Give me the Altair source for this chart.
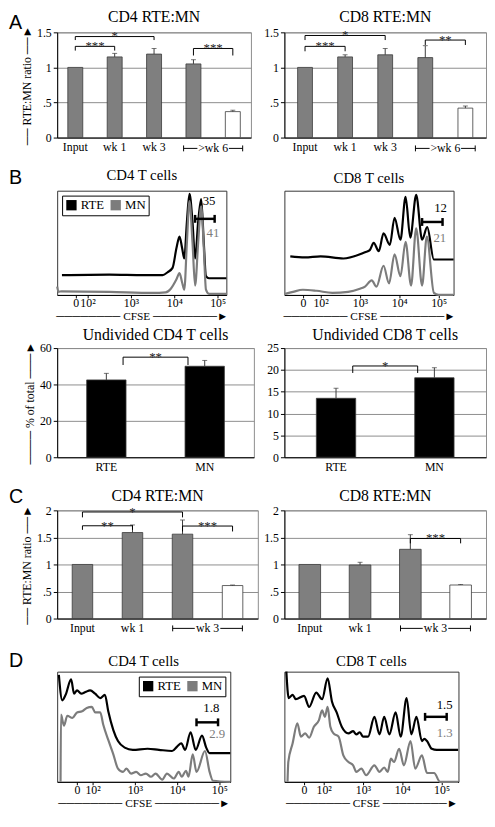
import altair as alt
import pandas as pd

SERIF = "Liberation Serif"
SANS = "Liberation Sans"
BAR_GRAY = "#7f7f7f"
LINE_GRAY = "#7c7c7c"
GRID = "#8c8c8c"
DARK = "#3a3a3a"

# ---------------- Panel A: RTE:MN ratio ----------------
A_CATS = ["Input", "wk 1", "wk 3", ">wk 6 (i)", ">wk 6 (ii)"]
A_FILLS = [BAR_GRAY, BAR_GRAY, BAR_GRAY, BAR_GRAY, "white"]
A_CD4_VALS = [1.0, 1.15, 1.19, 1.05, 0.37]
A_CD4_ERRS = [0.0, 0.05, 0.08, 0.06, 0.02]
A_CD8_VALS = [1.0, 1.15, 1.18, 1.14, 0.42]
A_CD8_ERRS = [0.0, 0.03, 0.09, 0.17, 0.03]
A_CD4_BRACKETS = [("Input", "wk 1", 1.30, 1.24, "***"),
                  ("Input", "wk 3", 1.44, 1.39, "*"),
                  (">wk 6 (i)", ">wk 6 (ii)", 1.27, 1.17, "***")]
A_CD8_BRACKETS = [("Input", "wk 1", 1.30, 1.23, "***"),
                  ("Input", "wk 3", 1.455, 1.39, "*"),
                  (">wk 6 (i)", ">wk 6 (ii)", 1.39, 1.32, "**")]

# ---------------- Panel B: undivided cells ----------------
B_CATS = ["RTE", "MN"]
B_FILLS = ["black", "black"]
B_CD4_VALS = [42.5, 50.0]
B_CD4_ERRS = [3.6, 3.2]
B_CD8_VALS = [13.5, 18.2]
B_CD8_ERRS = [2.3, 2.3]
B_CD4_BRACKETS = [("RTE", "MN", 55.0, 50.7, "**")]
B_CD8_BRACKETS = [("RTE", "MN", 20.9, 19.3, "*")]

# ---------------- Panel C: RTE:MN ratio ----------------
C_CATS = ["Input", "wk 1", "wk 3 (i)", "wk 3 (ii)"]
C_FILLS = [BAR_GRAY, BAR_GRAY, BAR_GRAY, "white"]
C_CD4_VALS = [1.0, 1.59, 1.56, 0.61]
C_CD4_ERRS = [0.0, 0.14, 0.26, 0.01]
C_CD8_VALS = [1.0, 0.99, 1.28, 0.62]
C_CD8_ERRS = [0.0, 0.05, 0.27, 0.01]
C_CD4_BRACKETS = [("Input", "wk 1", 1.715, 1.64, "**"),
                  ("Input", "wk 3 (i)", 1.97, 1.87, "*"),
                  ("wk 3 (i)", "wk 3 (ii)", 1.71, 1.61, "***")]
C_CD8_BRACKETS = [("wk 3 (i)", "wk 3 (ii)", 1.48, 1.39, "***")]

# ---------------- CFSE histograms (x in log-decade display units) ----------------
BH4_BLACK_X = [1.41, 2.5, 3.3, 3.73, 3.85, 3.96, 4.05, 4.12, 4.18, 4.23, 4.29, 4.35, 4.42, 4.48,
               4.55, 4.62, 4.68, 4.73, 4.8, 5.2]
BH4_BLACK_Y = [19, 19.5, 19, 19, 22, 26, 45, 56, 45, 35, 70, 97, 70, 35, 70, 92, 50, 18, 16, 16]
BH4_GRAY_X = [1.3, 1.33, 1.4, 2.5, 3.5, 3.8, 3.92, 4.05, 4.12, 4.18, 4.23, 4.29, 4.35, 4.42, 4.48,
              4.55, 4.62, 4.68, 4.73, 4.8, 5.2]
BH4_GRAY_Y = [8, 3, 3.5, 3, 2, 2.5, 6, 15, 21, 12, 5, 50, 90, 50, 9, 50, 85, 45, 5, 1, 1]

BH8_BLACK_X = [1.23, 1.6, 2.0, 2.58, 3.0, 3.13, 3.25, 3.35, 3.48, 3.6, 3.76, 3.88, 4.03, 4.16,
               4.28, 4.43, 4.58, 4.71, 4.88, 5.38]
BH8_BLACK_Y = [37, 36, 37, 35, 39, 41, 43, 50, 42, 59, 48, 74, 53, 94, 55, 96, 53, 65, 34, 34]
BH8_GRAY_X = [1.1, 1.3, 1.55, 1.9, 2.3, 2.7, 3.0, 3.13, 3.3, 3.42, 3.6, 3.74, 3.88, 4.03, 4.16,
              4.3, 4.43, 4.58, 4.7, 4.88, 5.0, 5.38]
BH8_GRAY_Y = [1, 3, 5, 4, 2, 3, 6, 8, 14, 8, 28, 11, 39, 18, 51, 9, 64, 9, 56, 2, 0, 0]

DH4_BLACK_X = [1.2, 1.28, 1.36, 1.49, 1.56, 1.63, 1.73, 1.83, 1.94, 2.06, 2.18, 2.29, 2.37, 2.49,
               2.6, 2.76, 2.95, 3.3, 3.57, 3.88, 4.0, 4.1, 4.19, 4.32, 4.44, 4.59, 4.69, 4.77, 5.26]
DH4_BLACK_Y = [97, 74, 79, 93, 80, 83, 80, 81.5, 83, 80, 76, 79, 64, 47, 37, 31, 29, 30, 29, 28,
               32, 35, 29, 45, 29, 42, 31, 26, 26]
DH4_GRAY_X = [1.24, 1.25, 1.32, 1.40, 1.52, 1.63, 1.75, 1.86, 1.98, 2.06, 2.18, 2.25, 2.37, 2.49,
              2.60, 2.72, 2.80, 2.91, 3.03, 3.14, 3.26, 3.38, 3.49, 3.65, 3.76, 3.92, 4.04, 4.11,
              4.21, 4.27, 4.37, 4.46, 4.66, 4.77, 4.85, 5.26]
DH4_GRAY_Y = [0, 61, 51, 60, 58, 63, 64, 67, 68, 63, 63, 52, 38, 25, 12, 9, 12, 7.5, 9, 6, 7.5,
              4.6, 7.5, 2, 7.5, 3, 9, 4.6, 10, 4.6, 25, 9, 28, 9, 1, 0]

DH8_BLACK_X = [1.05, 1.11, 1.21, 1.29, 1.5, 1.63, 1.81, 1.96, 2.1, 2.21, 2.33, 2.46, 2.63, 2.75,
               2.83, 2.92, 3.0, 3.13, 3.29, 3.42, 3.54, 3.67, 3.83, 3.96, 4.11, 4.23, 4.36, 4.5,
               4.56, 4.63, 4.75, 4.88, 5.42]
DH8_BLACK_Y = [100, 76, 79, 75, 78, 68, 81, 75, 94, 73, 63, 50, 44, 46, 43, 45, 41, 41, 59, 43,
               59, 43, 63, 41, 76, 43, 59, 37, 39, 37, 30, 29, 29]
DH8_GRAY_X = [1.08, 1.1, 1.21, 1.33, 1.42, 1.53, 1.63, 1.75, 1.88, 1.96, 2.03, 2.1, 2.17, 2.25,
              2.38, 2.5, 2.63, 2.75, 2.83, 2.96, 3.08, 3.29, 3.42, 3.54, 3.63, 3.71, 3.79, 3.92,
              4.04, 4.21, 4.33, 4.5, 4.63, 4.81, 4.96, 5.42]
DH8_GRAY_Y = [0, 18, 35, 53, 41, 44, 40, 50, 56, 65, 59, 68, 50, 44, 41, 24, 18, 15, 9, 12, 6,
              15, 9, 13, 9, 21, 18, 30, 15, 37, 12, 24, 8, 8, 0, 0]

# gate annotations: (RTE %, MN %)
BH4_GATE = ("35", "41")
BH8_GATE = ("12", "21")
DH4_GATE = ("1.8", "2.9")
DH8_GATE = ("1.5", "1.3")

CELLS = ["RTE", "MN"]
CELL_COLORS = ["black", LINE_GRAY]

H = "\u2500"
YT_RATIO = H * 2 + " RTE:MN ratio " + H * 2 + "\u25BA"
YT_PCT = H * 4 + " % of total " + H * 3 + "\u25BA"
CFSE_T = H * 8 + " CFSE " + H * 8 + "\u25BA"


def text_layer(txt, x, y, font, size, align="center", baseline="alphabetic"):
    return alt.Chart(pd.DataFrame({"t": [txt]})).mark_text(
        font=font, fontSize=size, align=align, baseline=baseline, color="black"
    ).encode(text="t:N", x=alt.value(x), y=alt.value(y))


def bar_panel(title, cats, vals, errs, fills, brackets, ymax, yticks, width, height, pi, po,
              ytitle=None, letter=None, letter_dy=-10, span=None, inset=0, ylabel_expr=None,
              title_y=-9):
    n = len(cats)
    step = width / (n - pi + 2 * po)
    df = pd.DataFrame({"cat": cats, "val": vals, "err": errs, "fill": fills})
    df["top"] = df["val"] + df["err"]
    xs = alt.Scale(domain=cats, paddingInner=pi, paddingOuter=po)
    ys = alt.Scale(domain=[0, ymax], nice=False)
    xaxis = alt.Axis(title=None, labelExpr="indexof(datum.value, '(') >= 0 ? '' : datum.value",
                     ticks=False, tickSize=0, labelPadding=4, labelFontSize=12, labelAngle=0,
                     grid=False, domainColor="black")
    ykw = dict(values=yticks, grid=True, gridColor=GRID, tickSize=4, labelFontSize=12,
               labelPadding=2, domainColor="black", tickColor="black", labelOverlap=False,
               tickCount=len(yticks))
    if ylabel_expr:
        ykw["labelExpr"] = ylabel_expr
    if ytitle:
        ykw.update(title=ytitle, titleFontSize=12, titlePadding=3)
    else:
        ykw["title"] = None
    yaxis = alt.Axis(**ykw)

    def X(f):
        return alt.X(f, scale=xs, axis=xaxis)

    def Y(f):
        return alt.Y(f, scale=ys, axis=yaxis)

    bars = alt.Chart(df).mark_bar(stroke=DARK, strokeWidth=0.8).encode(
        x=X("cat:N"), y=Y("val:Q"), fill=alt.Fill("fill:N", scale=None))
    layers = [bars]
    dfe = df[df["err"] > 0]
    layers.append(alt.Chart(dfe).mark_rule(color=DARK, strokeWidth=1).encode(
        x=X("cat:N"), y=Y("val:Q"), y2="top:Q"))
    layers.append(alt.Chart(dfe).mark_tick(color=DARK, thickness=1, size=5).encode(
        x=X("cat:N"), y=Y("top:Q")))
    br = pd.DataFrame(brackets, columns=["a", "b", "top", "leg", "stars"])
    layers.append(alt.Chart(br).mark_rule(color="black", strokeWidth=1, xOffset=inset,
                                          x2Offset=-inset).encode(
        x=X("a:N"), x2="b:N", y=Y("top:Q")))
    layers.append(alt.Chart(br).mark_rule(color="black", strokeWidth=1, xOffset=inset).encode(
        x=X("a:N"), y=Y("top:Q"), y2="leg:Q"))
    layers.append(alt.Chart(br).mark_rule(color="black", strokeWidth=1, xOffset=-inset).encode(
        x=X("b:N"), y=Y("top:Q"), y2="leg:Q"))
    for a, b, top, leg, stars in brackets:
        dx = (cats.index(b) - cats.index(a)) * step / 2
        layers.append(alt.Chart(pd.DataFrame({"a": [a], "top": [top], "s": [stars]})).mark_text(
            dx=dx, dy=4, baseline="alphabetic", fontSize=13, color="#222222").encode(
            x=X("a:N"), y=Y("top:Q"), text="s:N"))
    if span:
        ca, cb, lab, ext, gap, ypx = span
        sdf = pd.DataFrame({"a": [ca], "b": [cb], "lab": [lab], "z": [0.0]})
        base = alt.Chart(sdf)
        half = step / 2
        layers.append(base.mark_rule(color="black", strokeWidth=1, xOffset=-ext,
                                     x2Offset=half - gap, yOffset=ypx).encode(
            x=X("a:N"), x2="a:N", y=Y("z:Q")))
        layers.append(base.mark_rule(color="black", strokeWidth=1, xOffset=-(half - gap),
                                     x2Offset=ext, yOffset=ypx).encode(
            x=X("b:N"), x2="b:N", y=Y("z:Q")))
        layers.append(base.mark_rule(color="black", strokeWidth=1, xOffset=-ext,
                                     yOffset=ypx - 3, y2Offset=ypx + 3).encode(
            x=X("a:N"), y=Y("z:Q"), y2="z:Q"))
        layers.append(base.mark_rule(color="black", strokeWidth=1, xOffset=ext,
                                     yOffset=ypx - 3, y2Offset=ypx + 3).encode(
            x=X("b:N"), y=Y("z:Q"), y2="z:Q"))
        layers.append(base.mark_text(dx=half, dy=ypx, baseline="middle", fontSize=12,
                                     color="black").encode(
            x=X("a:N"), y=Y("z:Q"), text="lab:N"))
    layers.append(text_layer(title, width / 2, title_y, SERIF, 16))
    if letter:
        layers.append(text_layer(letter, -49, letter_dy, SANS, 20, align="left",
                                 baseline="middle"))
    return alt.layer(*layers).properties(
        width=width, height=height,
        view=alt.ViewBackground(stroke=GRID, strokeWidth=1),
    )


def hist_panel(title, xdom, zero_at, bx, by, gx, gy, gate, top_pos, bot_pos, bar, width, height,
               letter=None, letter_dy=-12, legend_orient=None, title_y=-8):
    df = pd.DataFrame({
        "x": bx + gx, "y": by + gy,
        "cell": [CELLS[0]] * len(bx) + [CELLS[1]] * len(gx),
        "col": [CELL_COLORS[0]] * len(bx) + [CELL_COLORS[1]] * len(gx),
        "order": list(range(len(bx))) + list(range(len(gx))),
    })
    xs = alt.Scale(domain=xdom, nice=False, zero=False)
    ys = alt.Scale(domain=[0, 100], nice=False)
    lab = ("datum.value < 1.9 ? '0' : datum.value < 2.5 ? '10\u00b2' : datum.value < 3.5 ? "
           "'10\u00b3' : datum.value < 4.5 ? '10\u2074' : '10\u2075'")
    xaxis = alt.Axis(values=[zero_at, 2, 3, 4, 5], labelExpr=lab, labelOverlap=False,
                     labelFlush=False, tickSize=3, labelFontSize=12, labelPadding=0,
                     title=CFSE_T, titleFontSize=11.5, titlePadding=2, grid=False,
                     domainColor="black", tickColor="black")

    def X(f):
        return alt.X(f, scale=xs, axis=xaxis)

    def Y(f):
        return alt.Y(f, scale=ys, axis=None)

    layers = []
    line = alt.Chart(df).mark_line(strokeWidth=2.2, interpolate="monotone").encode(
        x=X("x:Q"), y=Y("y:Q"),
        stroke=alt.Stroke("col:N", scale=None),
        detail="cell:N",
        order="order:Q",
    )
    layers.append(line)
    if legend_orient:
        layers.append(alt.Chart(df).mark_area(strokeWidth=0).encode(
            x=X("x:Q"), y=Y("y:Q"), y2="y:Q",
            fill=alt.Fill("cell:N", scale=alt.Scale(domain=CELLS, range=CELL_COLORS),
                          legend=alt.Legend(
                orient=legend_orient, direction="horizontal", title=None, symbolType="square",
                symbolSize=110, symbolStrokeWidth=0, labelFont=SERIF, labelFontSize=13,
                labelColor="black", strokeColor="black", fillColor="white", padding=3,
                offset=5, columnPadding=5, labelOffset=3, cornerRadius=0)),
        ))
    adf = pd.DataFrame({"x": [top_pos[0], bot_pos[0]], "y": [top_pos[1], bot_pos[1]],
                        "t": [gate[0], gate[1]], "c": CELL_COLORS})
    layers.append(alt.Chart(adf).mark_text(fontSize=13, baseline="middle").encode(
        x=X("x:Q"), y=Y("y:Q"), text="t:N", color=alt.Color("c:N", scale=None)))
    bdf = pd.DataFrame({"x1": [bar[0]], "x2": [bar[1]], "y": [bar[2]]})
    layers.append(alt.Chart(bdf).mark_rule(color="black", strokeWidth=2.5).encode(
        x=X("x1:Q"), x2="x2:Q", y=Y("y:Q")))
    layers.append(alt.Chart(bdf).mark_rule(color="black", strokeWidth=2.5, yOffset=-4,
                                           y2Offset=4).encode(
        x=X("x1:Q"), y=Y("y:Q"), y2="y:Q"))
    layers.append(alt.Chart(bdf).mark_rule(color="black", strokeWidth=2.5, yOffset=-4,
                                           y2Offset=4).encode(
        x=X("x2:Q"), y=Y("y:Q"), y2="y:Q"))
    layers.append(text_layer(title, width / 2, title_y, SERIF, 15))
    if letter:
        layers.append(text_layer(letter, -49, letter_dy, SANS, 20, align="left",
                                 baseline="middle"))
    return alt.layer(*layers).properties(
        width=width, height=height,
        view=alt.ViewBackground(stroke="#333333", strokeWidth=1),
    )


RATIO_EXPR = "replace(toString(datum.value), '0.', '.')"

a4 = bar_panel("CD4 RTE:MN", A_CATS, A_CD4_VALS, A_CD4_ERRS, A_FILLS, A_CD4_BRACKETS, 1.5,
               [0, 0.5, 1, 1.5], 197, 107, 0.62, 0.27, ytitle=YT_RATIO, letter="A", letter_dy=-9,
               span=(">wk 6 (i)", ">wk 6 (ii)", ">wk 6", 10, 16, 11), ylabel_expr=RATIO_EXPR,
               title_y=-11)
a8 = bar_panel("CD8 RTE:MN", A_CATS, A_CD8_VALS, A_CD8_ERRS, A_FILLS, A_CD8_BRACKETS, 1.5,
               [0, 0.5, 1, 1.5], 205, 107, 0.63, 0.33,
               span=(">wk 6 (i)", ">wk 6 (ii)", ">wk 6", 10, 16, 11), ylabel_expr=RATIO_EXPR,
               title_y=-11)

bh4 = hist_panel("CD4 T cells", [1.3, 5.2], 1.73, BH4_BLACK_X, BH4_BLACK_Y, BH4_GRAY_X, BH4_GRAY_Y,
                 BH4_GATE, (4.8, 90), (4.89, 59), (4.48, 4.93, 73), 172, 106,
                 letter="B", letter_dy=-13, legend_orient="top-left", title_y=-11)
bh8 = hist_panel("CD8 T cells", [1.08, 5.38], 1.55, BH8_BLACK_X, BH8_BLACK_Y, BH8_GRAY_X,
                 BH8_GRAY_Y, BH8_GATE, (5.05, 83), (5.03, 55), (4.58, 5.1, 70), 172, 106,
                 title_y=-8)

bb4 = bar_panel("Undivided CD4 T cells", B_CATS, B_CD4_VALS, B_CD4_ERRS, B_FILLS, B_CD4_BRACKETS,
                60, [0, 20, 40, 60], 200, 111, 0.6, 0.3, ytitle=YT_PCT, inset=17, title_y=-8)
bb8 = bar_panel("Undivided CD8 T cells", B_CATS, B_CD8_VALS, B_CD8_ERRS, B_FILLS, B_CD8_BRACKETS,
                25, [0, 5, 10, 15, 20, 25], 205, 111, 0.6, 0.325, inset=17, title_y=-8)

c4 = bar_panel("CD4 RTE:MN", C_CATS, C_CD4_VALS, C_CD4_ERRS, C_FILLS, C_CD4_BRACKETS, 2,
               [0, 0.5, 1, 1.5, 2], 204, 110, 0.59, 0.30, ytitle=YT_RATIO, letter="C",
               letter_dy=-13, span=("wk 3 (i)", "wk 3 (ii)", "wk 3", 10, 13, 10),
               ylabel_expr=RATIO_EXPR, title_y=-10)
c8 = bar_panel("CD8 RTE:MN", C_CATS, C_CD8_VALS, C_CD8_ERRS, C_FILLS, C_CD8_BRACKETS, 2,
               [0, 0.5, 1, 1.5, 2], 205, 110, 0.57, 0.29,
               span=("wk 3 (i)", "wk 3 (ii)", "wk 3", 10, 13, 10), ylabel_expr=RATIO_EXPR,
               title_y=-10)

dh4 = hist_panel("CD4 T cells", [1.16, 5.26], 1.63, DH4_BLACK_X, DH4_BLACK_Y, DH4_GRAY_X,
                 DH4_GRAY_Y, DH4_GATE, (4.81, 67), (4.95, 43), (4.46, 4.97, 54), 176, 112,
                 letter="D", letter_dy=-11, legend_orient="top-right", title_y=-6)
dh8 = hist_panel("CD8 T cells", [1.0, 5.43], 1.5, DH8_BLACK_X, DH8_BLACK_Y, DH8_GRAY_X,
                 DH8_GRAY_Y, DH8_GATE, (5.08, 70), (5.08, 44), (4.58, 5.13, 59), 177, 112,
                 title_y=-6)

chart = alt.concat(
    a4, a8, bh4, bh8, bb4, bb8, c4, c8, dh4, dh8,
    columns=2, spacing={"row": 54, "column": 27}, bounds="flush", align="each",
).resolve_scale(
    fill="independent"
).resolve_legend(
    fill="independent"
).properties(
    padding={"top": -7, "bottom": 0, "left": 0, "right": 0}
).configure(
    font=SERIF
).configure_axis(
    labelFont=SERIF, titleFont=SERIF, labelColor="black", titleColor="black",
    titleFontWeight="normal"
).configure_text(
    font=SERIF
).configure_view(
    strokeWidth=1
)

chart.save("out.html", embed_options={"renderer": "svg", "actions": False})
